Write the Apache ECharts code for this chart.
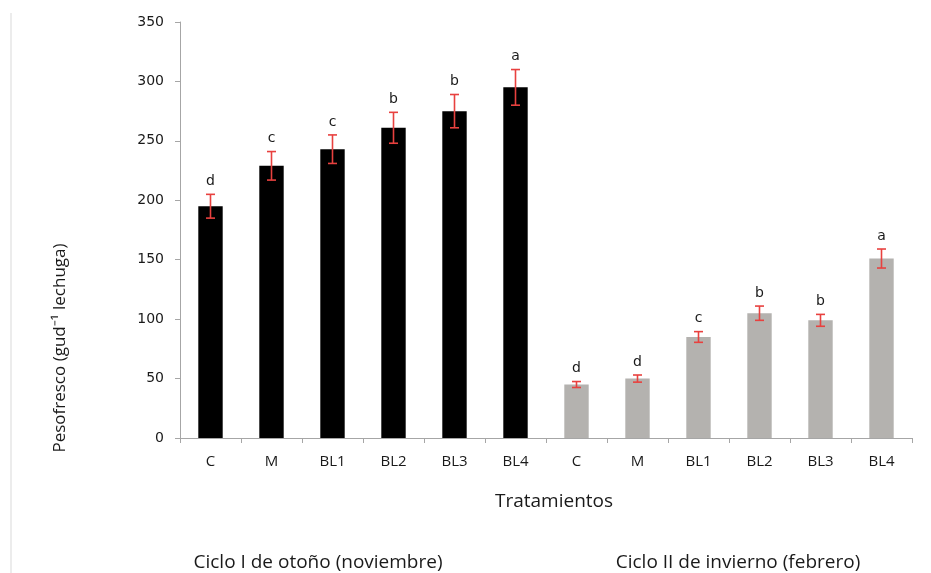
<!DOCTYPE html>
<html>
<head>
<meta charset="utf-8">
<script src="https://cdn.jsdelivr.net/npm/echarts@6/dist/echarts.min.js"></script>
<style>
  html, body { margin: 0; padding: 0; background: #ffffff; }
  #chart { width: 931px; height: 573px; }
</style>
</head>
<body>
<div id="chart"></div>
<script>
// Treatments along the x axis (two growing cycles, six treatments each)
const categories = ['C', 'M', 'BL1', 'BL2', 'BL3', 'BL4', 'C', 'M', 'BL1', 'BL2', 'BL3', 'BL4'];
// Mean fresh weight per lettuce (g)
const freshWeight = [195, 229, 243, 261, 275, 295, 45, 50, 85, 105, 99, 151];
// Error bar half-widths (g)
const errorHalf = [10, 12, 12, 13, 14, 15, 2.5, 3, 4.5, 6, 5, 8];
// Significance letters
const letters = ['d', 'c', 'c', 'b', 'b', 'a', 'd', 'd', 'c', 'b', 'b', 'a'];
// Cycle each treatment belongs to
const cycleOf = [0, 0, 0, 0, 0, 0, 1, 1, 1, 1, 1, 1];
const cycleNames = ['Ciclo I de otoño (noviembre)', 'Ciclo II de invierno (febrero)'];
// Y axis ticks
const yTicks = { min: 0, max: 350, step: 50 };

const cycleColors = ['#000000', '#b4b2af'];
const axisGray = '#a6a6a6';
const textColor = '#1a1a1a';

const chart = echarts.init(document.getElementById('chart'));

const errData = freshWeight.map((v, i) => [i, v, errorHalf[i]]);

chart.setOption({
  animation: false,
  backgroundColor: '#ffffff',
  grid: { left: 180, right: 19, top: 22, bottom: 135 },
  xAxis: {
    type: 'category',
    data: categories,
    axisLine: { lineStyle: { color: axisGray, width: 1 } },
    axisTick: { show: true, length: 5, alignWithLabel: false, lineStyle: { color: axisGray } },
    axisLabel: {
      margin: 16,
      fontFamily: 'Open Sans',
      fontSize: 15,
      color: textColor,
      interval: 0
    }
  },
  yAxis: {
    type: 'value',
    min: yTicks.min,
    max: yTicks.max,
    interval: yTicks.step,
    axisLine: { show: true, lineStyle: { color: axisGray, width: 1 } },
    axisTick: { show: true, length: 5, lineStyle: { color: axisGray } },
    splitLine: { show: false },
    axisLabel: {
      margin: 16,
      fontFamily: 'DejaVu Sans',
      fontSize: 14,
      color: textColor
    }
  },
  series: [
    {
      type: 'bar',
      data: freshWeight.map((v, i) => ({
        value: v,
        itemStyle: { color: cycleColors[cycleOf[i]] }
      })),
      barWidth: '40%'
    },
    {
      type: 'custom',
      data: errData,
      z: 5,
      renderItem: function (params, api) {
        const i = api.value(0);
        const v = api.value(1);
        const e = api.value(2);
        const top = api.coord([i, v + e]);
        const bot = api.coord([i, v - e]);
        const cap = 4.5;
        const red = '#e8413f';
        return {
          type: 'group',
          children: [
            { type: 'line', shape: { x1: top[0], y1: top[1], x2: bot[0], y2: bot[1] }, style: { stroke: red, lineWidth: 1.6 } },
            { type: 'line', shape: { x1: top[0] - cap, y1: top[1], x2: top[0] + cap, y2: top[1] }, style: { stroke: red, lineWidth: 1.6 } },
            { type: 'line', shape: { x1: bot[0] - cap, y1: bot[1], x2: bot[0] + cap, y2: bot[1] }, style: { stroke: red, lineWidth: 1.6 } },
            {
              type: 'text',
              style: {
                text: letters[params.dataIndex],
                x: top[0],
                y: top[1] - 13,
                align: 'center',
                verticalAlign: 'middle',
                font: '14px "DejaVu Sans"',
                fill: textColor
              }
            }
          ]
        };
      }
    }
  ],
  graphic: [
    {
      type: 'rect',
      left: 10, top: 13,
      shape: { width: 2, height: 560 },
      style: { fill: '#ececec' },
      silent: true
    },
    {
      type: 'text',
      x: 60, y: 348,
      rotation: Math.PI / 2,
      style: {
        text: 'Pesofresco (gud⁻¹ lechuga)',
        align: 'center',
        verticalAlign: 'middle',
        font: '17px "Open Sans"',
        fill: textColor
      }
    },
    {
      type: 'text',
      x: 554, y: 502,
      style: {
        text: 'Tratamientos',
        align: 'center',
        verticalAlign: 'middle',
        font: '19px "Open Sans"',
        fill: textColor
      }
    },
    {
      type: 'text',
      x: 318, y: 563,
      style: {
        text: cycleNames[0],
        align: 'center',
        verticalAlign: 'middle',
        font: '19px "Open Sans"',
        fill: textColor
      }
    },
    {
      type: 'text',
      x: 738, y: 563,
      style: {
        text: cycleNames[1],
        align: 'center',
        verticalAlign: 'middle',
        font: '19px "Open Sans"',
        fill: textColor
      }
    }
  ]
});
</script>
</body>
</html>
